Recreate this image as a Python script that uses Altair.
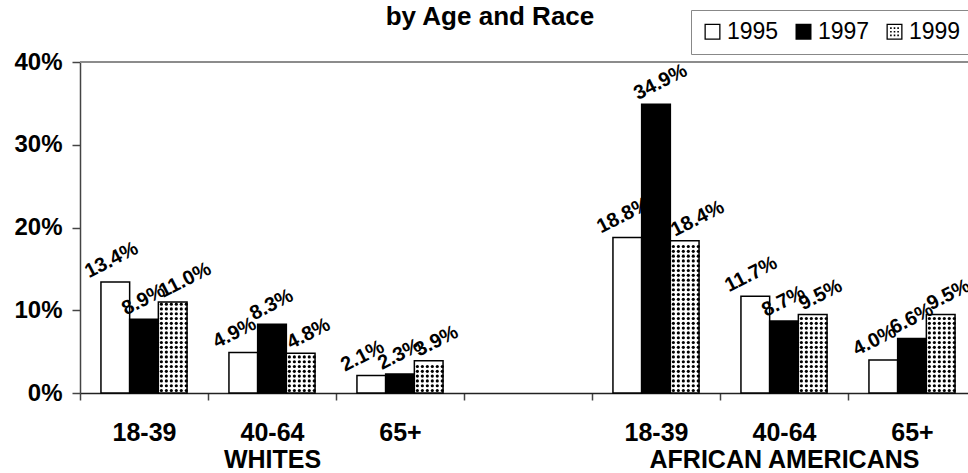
import altair as alt
import pandas as pd

# ---------------- data ----------------
title_text = "by Age and Race"
groups = ["WHITES", "WHITES", "WHITES", "", "AFRICAN AMERICANS", "AFRICAN AMERICANS", "AFRICAN AMERICANS"]
ages = ["18-39", "40-64", "65+", "", "18-39", "40-64", "65+"]
years = ["1995", "1997", "1999"]
v1995 = [13.4, 4.9, 2.1, 18.8, 11.7, 4.0]
v1997 = [8.9, 8.3, 2.3, 34.9, 8.7, 6.6]
v1999 = [11.0, 4.8, 3.9, 18.4, 9.5, 9.5]
y_ticks = [0, 10, 20, 30, 40]

# ---------------- table ----------------
cats = [g + "|" + a for g, a in zip(groups, ages)]
data_cats = [c for c in cats if c != "|"]
rows = []
for i, c in enumerate(data_cats):
    for yr, vals in zip(years, [v1995, v1997, v1999]):
        rows.append({"cat": c, "year": yr, "value": vals[i], "label": f"{vals[i]:.1f}%"})
df = pd.DataFrame(rows)

# axis label expression: middle category of each group gets the group name as 2nd line
label_expr = "split(datum.value, '|')[1]"
seen = {}
for i, g in enumerate(groups):
    if g:
        seen.setdefault(g, []).append(i)
for g, idx in seen.items():
    m = idx[len(idx) // 2]
    label_expr = f"datum.value == '{cats[m]}' ? ['{ages[m]}', '{g}'] : " + label_expr

FONT = "Liberation Sans"
N_COLS = 6   # texture columns in the dotted bars
N_PAD = 4    # whole sub-steps of outer padding for the texture offset scale
OUTER = 0.73
sub_domain = (
    [f"padL{k}" for k in range(N_PAD)]
    + [f"{y}_{k}" for y in years for k in range(N_COLS)]
    + [f"padR{k}" for k in range(N_PAD)]
)
SUB_OUTER = OUTER * N_COLS - N_PAD

x_enc = alt.X(
    "cat:N",
    sort=cats,
    scale=alt.Scale(domain=cats, range=[0, 896], paddingInner=0, paddingOuter=0),
    axis=alt.Axis(
        title=None, labelAngle=0, labelExpr=label_expr, tickBand="extent",
        domainColor="#222222", domainWidth=1.5, tickColor="#444444", tickWidth=1.5,
        tickSize=7, labelFontSize=25, labelFontWeight="bold", labelColor="black",
        labelPadding=20, labelLineHeight=27, labelBaseline="top", labelFont=FONT,
        labelLimit=0,
    ),
)
xoff_enc = alt.XOffset(
    "year:N", scale=alt.Scale(domain=years, paddingInner=0, paddingOuter=OUTER)
)
y_scale = alt.Scale(domain=[0, 40], nice=False)
y_enc = alt.Y(
    "value:Q",
    scale=y_scale,
    axis=alt.Axis(
        title=None, values=y_ticks, labelExpr="datum.value + '%'", grid=False,
        domainColor="#444444", domainWidth=1.5, tickColor="#444444", tickWidth=1.5,
        tickSize=8, labelFontSize=24, labelFontWeight="bold", labelColor="black",
        labelPadding=10, labelFont=FONT,
    ),
)

# legend symbols (unit-square paths)
ring = "M-1,-1H1V1H-1Z M-0.84,-0.84V0.84H0.84V-0.84Z"
dotted_path = ring
h = 0.1
for cy in (-0.45, 0, 0.45):
    for cx in (-0.45, 0, 0.45):
        dotted_path += f" M{cx-h},{cy-h}H{cx+h}V{cy+h}H{cx-h}Z"

legend = alt.Legend(
    orient="none", legendX=611, legendY=-52, direction="horizontal", title=None,
    labelFontSize=23, labelFont=FONT, labelColor="black", symbolSize=256,
    strokeColor="#888888", padding=10, columnPadding=13, labelOffset=3,
    fillColor="white", symbolStrokeWidth=0,
)

base = alt.Chart(df)

legend_pts = base.mark_point(filled=True, size=4, opacity=1).encode(
    x=x_enc, xOffset=xoff_enc, y=alt.datum(1, scale=y_scale),
    fill=alt.Fill("year:N", scale=alt.Scale(domain=years, range=["black", "black", "black"]), legend=legend),
    shape=alt.Shape("year:N", scale=alt.Scale(domain=years, range=[ring, "square", dotted_path]), legend=legend),
)

bars = base.mark_bar(stroke="black", strokeWidth=1.5).encode(
    x=x_enc, xOffset=xoff_enc, y=y_enc,
    fill=alt.condition(alt.datum.year == "1997", alt.value("black"), alt.value("white")),
)

col_list = "[" + ",".join(f"datum.year + '_{k}'" for k in range(N_COLS)) + "]"
dots = (
    base.transform_filter(alt.datum.year == "1999")
    .transform_calculate(dots="sequence(0.3, datum.value - 0.15, 0.58)")
    .transform_flatten(["dots"])
    .transform_calculate(col=col_list)
    .transform_flatten(["col"])
    .mark_circle(size=10, color="black", opacity=1)
    .encode(
        x=x_enc,
        xOffset=alt.XOffset(
            "col:N",
            scale=alt.Scale(domain=sub_domain, paddingInner=0, paddingOuter=SUB_OUTER),
        ),
        y=alt.Y("dots:Q", scale=y_scale),
    )
)

top_rule = alt.Chart(pd.DataFrame({"top": [40]})).mark_rule(color="#8c8c8c", strokeWidth=2).encode(
    y=alt.Y("top:Q", scale=y_scale)
)

labels = base.mark_text(
    angle=333, align="left", baseline="alphabetic", dx=-14.2, dy=-11.6,
    fontSize=20, fontWeight="bold", font=FONT, color="black",
).encode(x=x_enc, xOffset=xoff_enc, y=y_enc, text="label:N")

# chart title drawn as a text mark above the plot area
title_mark = alt.Chart(pd.DataFrame({"t": [title_text]})).mark_text(
    fontSize=26, fontWeight="bold", font=FONT, color="black",
    align="center", baseline="alphabetic",
).encode(text="t:N", x=alt.value(410), y=alt.value(-37))

chart = (
    alt.layer(legend_pts, bars, dots, top_rule, labels, title_mark)
    .resolve_scale(xOffset="independent")
    .properties(
        width=888,
        height=331,
        autosize=alt.AutoSizeParams(type="none"),
        padding={"left": 80, "top": 62, "right": 0, "bottom": 80},
    )
    .configure_view(stroke=None)
    .configure_legend(strokeWidth=2)
    .configure(font=FONT, background="white")
)

chart.save("out.html", embed_options={"renderer": "svg", "actions": False})
